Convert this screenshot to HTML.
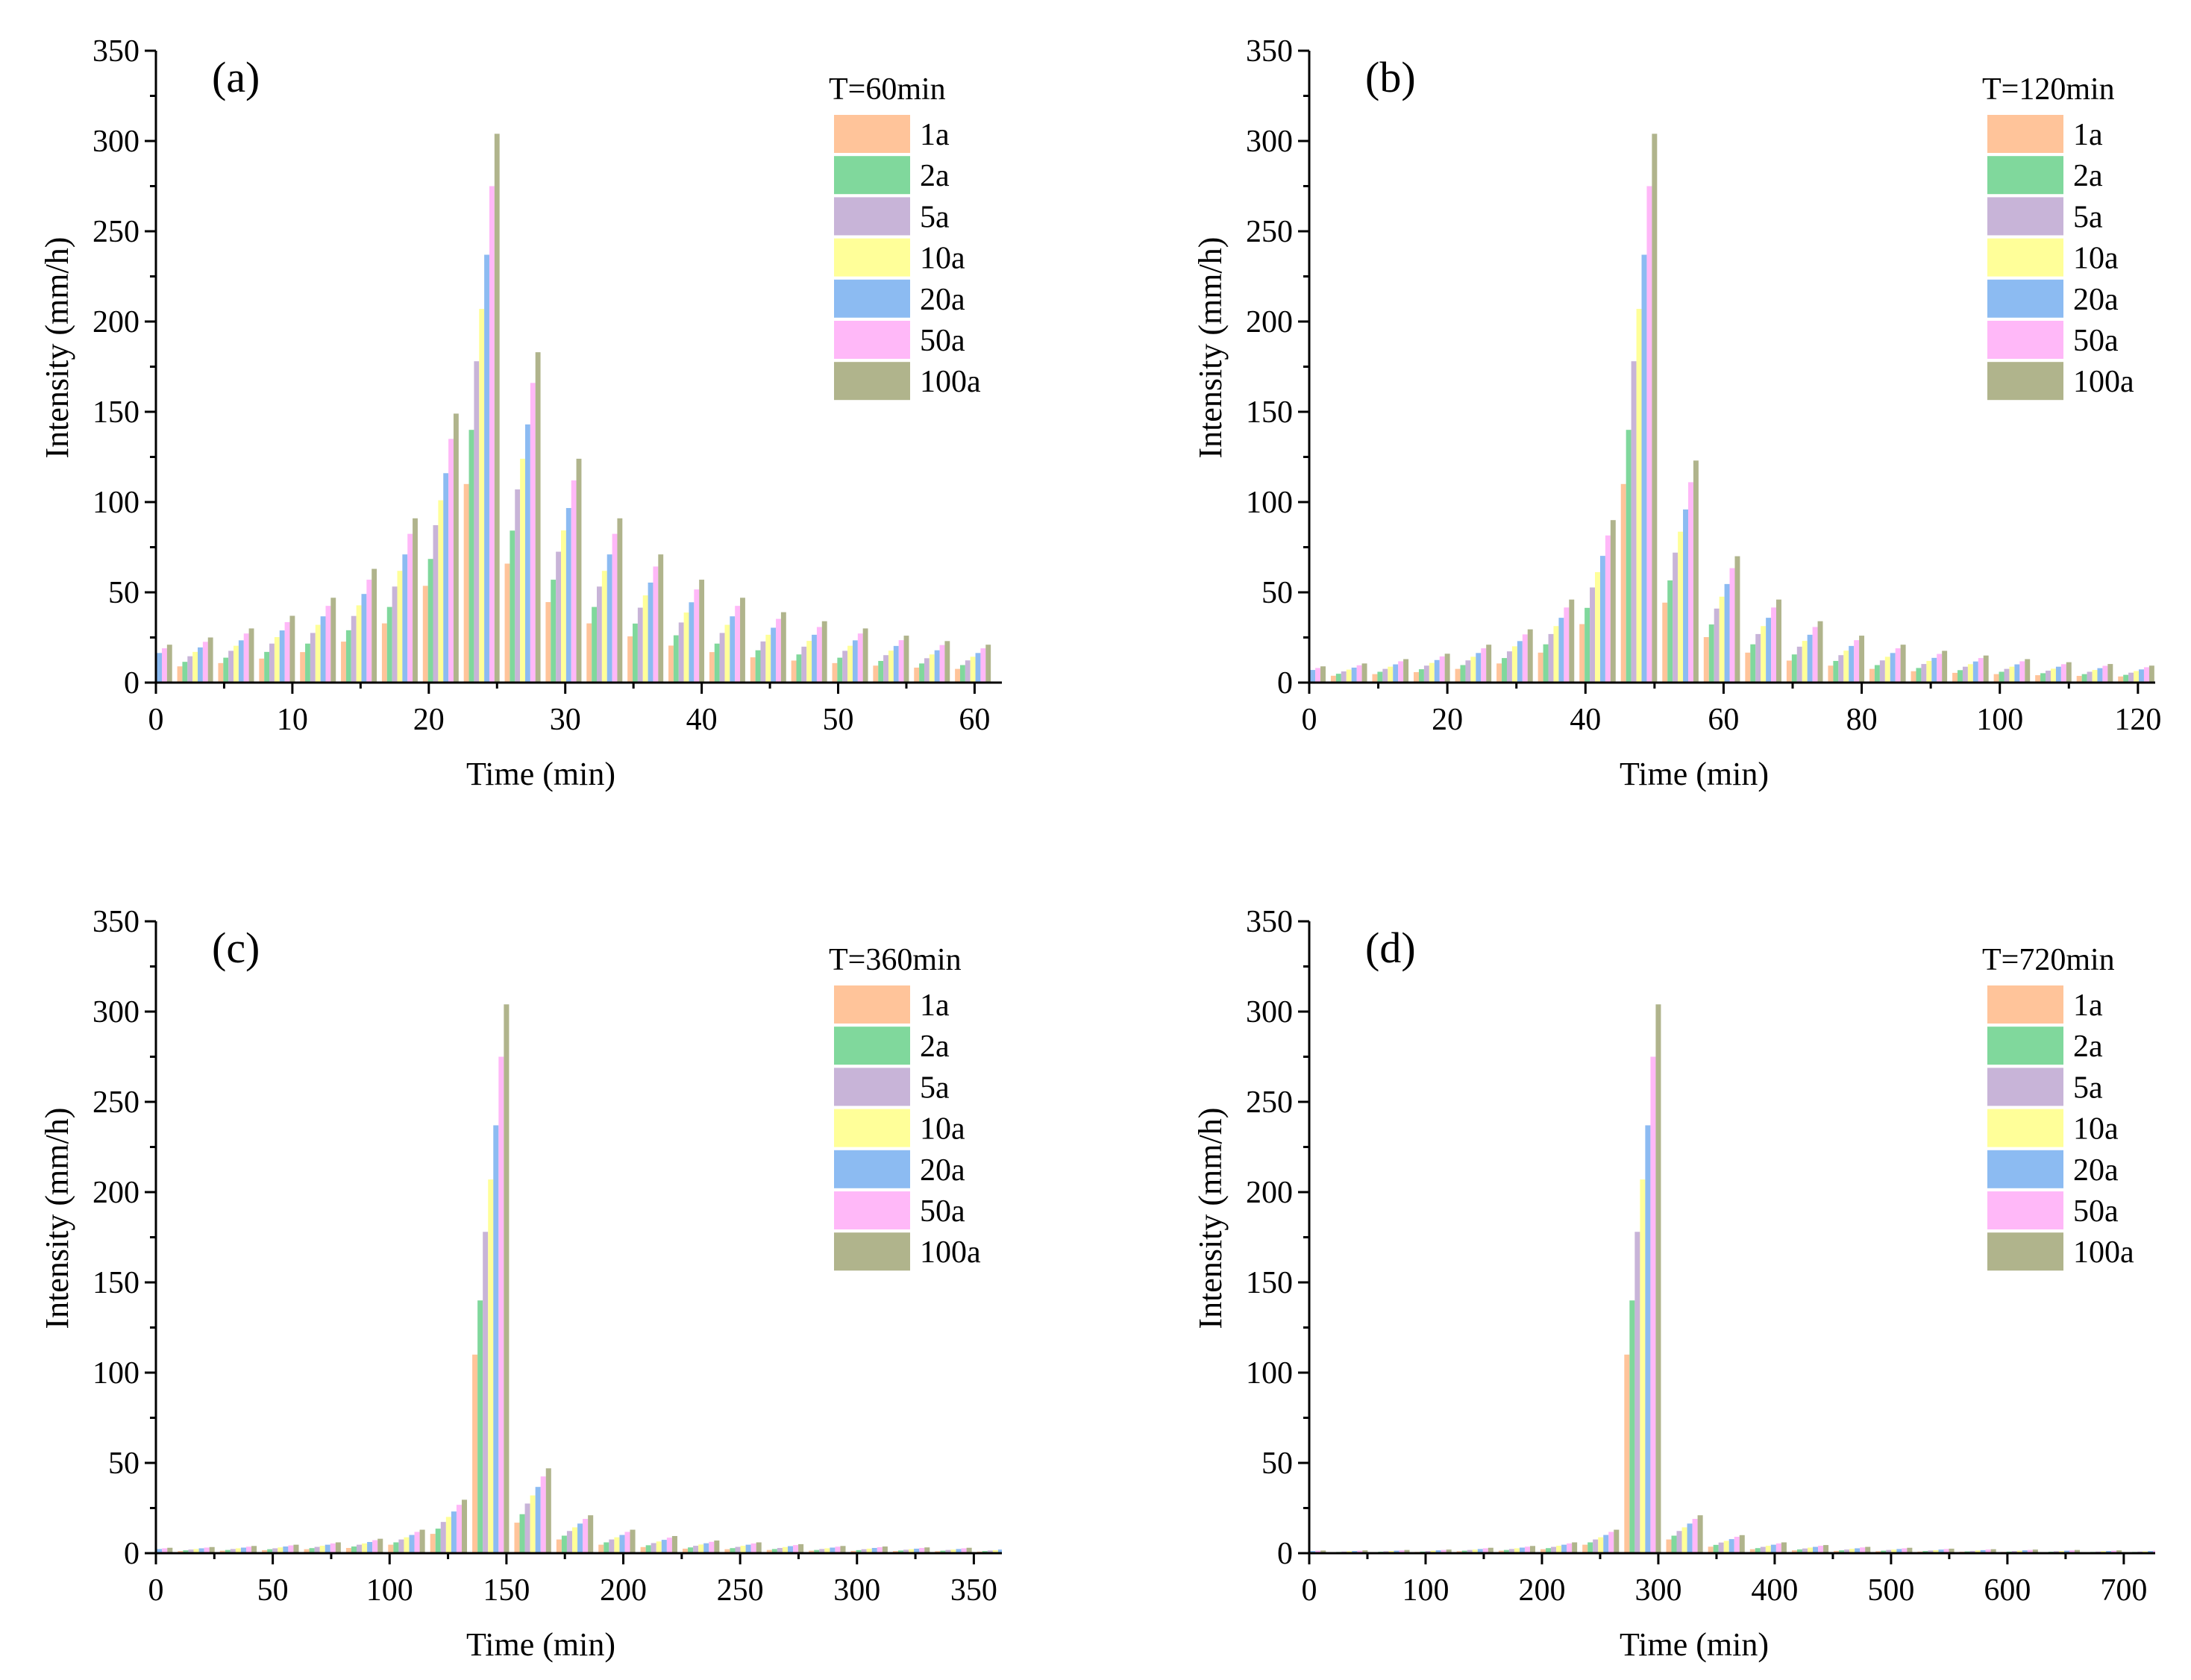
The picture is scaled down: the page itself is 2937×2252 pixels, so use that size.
<!DOCTYPE html>
<html><head><meta charset="utf-8"><style>
html,body{margin:0;padding:0;background:#fff;}
svg{display:block;font-family:"Liberation Serif",serif;}
</style></head><body>
<svg id="fig" width="2937" height="2252" viewBox="0 0 2937 2252" xmlns="http://www.w3.org/2000/svg"></svg>
<script>
const seriesNames = ["1a","2a","5a","10a","20a","50a","100a"];
const seriesColors = ["#FFC49A","#80D89C","#C8B4D8","#FFFF99","#8CBBF2","#FFB8F8","#B0B48C"];
const yTicks = [0,50,100,150,200,250,300,350];

const aS1=[7.6,9,10.8,13.3,16.9,22.7,32.8,53.6,110,65.9,44.6,32.8,25.6,20.5,16.9,14,12.2,10.8,9.4,8.3,7.6];
const aS2=[9.7,11.5,13.8,17,21.6,29,41.9,68.5,140,84.2,57,41.9,32.7,26.2,21.6,17.9,15.6,13.8,12,10.6,9.7];
const aS5=[12.3,14.6,17.6,21.6,27.5,36.9,53.2,87.2,178,107,72.5,53.2,41.5,33.3,27.5,22.8,19.9,17.6,15.2,13.5,12.3];
const aS10=[14.3,17,20.4,25.2,32,42.8,61.9,101,207,124,84.3,61.9,48.3,38.8,32,26.5,23.1,20.4,17.7,15.6,14.3];
const aS20=[16.4,19.5,23.4,28.9,36.7,49.1,71,116,237,143,96.7,71,55.4,44.5,36.7,30.4,26.5,23.4,20.3,17.9,16.4];
const aS50=[19,22.6,27.2,33.5,42.5,57,82.4,135,275,166,112,82.4,64.3,51.6,42.5,35.3,30.8,27.2,23.5,20.8,19];
const aS100=[21,25,30,37,47,63,91,149,304,183,124,91,71,57,47,39,34,30,26,23,21];

const bS1=[3.2,3.8,4.7,5.8,7.6,10.6,16.6,32.4,110,44.3,25.2,16.6,12.2,9.4,7.6,6.3,5.4,4.7,4.1,3.7,3.4];
const bS2=[4.1,4.9,6,7.4,9.7,13.6,21.2,41.4,140,56.6,32.2,21.2,15.6,12,9.7,8.1,6.9,6,5.2,4.7,4.3];
const bS5=[5.3,6.2,7.6,9.4,12.3,17.3,26.9,52.7,178,72,41,26.9,19.9,15.2,12.3,10.3,8.8,7.6,6.6,6,5.5];
const bS10=[6.1,7.2,8.8,10.9,14.3,20.1,31.3,61.2,207,83.6,47.6,31.3,23.1,17.7,14.3,12,10.2,8.8,7.7,7,6.4];
const bS20=[7,8.3,10.1,12.5,16.4,23,35.9,70.2,237,95.9,54.6,35.9,26.5,20.3,16.4,13.7,11.7,10.1,8.8,8,7.3];
const bS50=[8.1,9.6,11.8,14.5,19,26.7,41.6,81.5,275,111,63.4,41.6,30.8,23.5,19,15.9,13.6,11.8,10.2,9.3,8.5];
const bS100=[9,10.6,13,16,21,29.5,46,90,304,123,70,46,34,26,21,17.6,15,13,11.3,10.3,9.4];

const cS1=[1.1,1.2,1.4,1.7,2.2,2.9,4.7,10.7,110,16.9,7.6,4.7,3.4,2.5,2.2,1.8,1.4,1.3,1.2,1.1,0.9];
const cS2=[1.4,1.6,1.8,2.2,2.8,3.7,6,13.6,140,21.6,9.7,6,4.4,3.2,2.8,2.3,1.8,1.7,1.5,1.4,1.2];
const cS5=[1.8,2,2.3,2.7,3.5,4.7,7.6,17.3,178,27.5,12.3,7.6,5.6,4.1,3.5,2.9,2.3,2.2,1.9,1.8,1.5];
const cS10=[2,2.3,2.7,3.2,4.1,5.4,8.8,20.1,207,32,14.3,8.8,6.5,4.8,4.1,3.4,2.7,2.5,2.2,2,1.7];
const cS20=[2.3,2.7,3.1,3.7,4.7,6.2,10.1,23.1,237,36.7,16.4,10.1,7.4,5.5,4.7,3.9,3.1,2.9,2.5,2.3,2];
const cS50=[2.7,3.1,3.6,4.3,5.4,7.2,11.8,26.8,275,42.5,19,11.8,8.6,6.3,5.4,4.5,3.6,3.3,2.9,2.7,2.3];
const cS100=[3,3.4,4,4.7,6,8,13,29.6,304,47,21,13,9.5,7,6,5,4,3.7,3.2,3,2.5];

const dS1=[0.5,0.6,0.6,0.7,1.1,1.4,2.2,4.7,110,7.6,3.6,2.2,1.6,1.3,1.1,0.9,0.8,0.7,0.6,0.6,0.5];
const dS2=[0.7,0.7,0.8,0.9,1.4,1.8,2.8,6,140,9.7,4.6,2.8,2.1,1.6,1.4,1.2,1,0.9,0.8,0.7,0.7];
const dS5=[0.9,0.9,1.1,1.2,1.8,2.3,3.5,7.6,178,12.3,5.9,3.5,2.6,2,1.8,1.5,1.3,1.2,1.1,0.9,0.9];
const dS10=[1,1.1,1.2,1.4,2,2.7,4.1,8.8,207,14.3,6.8,4.1,3.1,2.4,2,1.7,1.5,1.4,1.2,1.1,1];
const dS20=[1.2,1.2,1.4,1.6,2.3,3.1,4.7,10.1,237,16.4,7.8,4.7,3.5,2.7,2.3,2,1.7,1.6,1.4,1.2,1.2];
const dS50=[1.4,1.4,1.6,1.8,2.7,3.6,5.4,11.8,275,19,9.1,5.4,4.1,3.2,2.7,2.3,2,1.8,1.6,1.4,1.4];
const dS100=[1.5,1.6,1.8,2,3,4,6,13,304,21,10,6,4.5,3.5,3,2.5,2.2,2,1.8,1.6,1.5];

const panelLabels=["(a)","(b)","(c)","(d)"];
const panelTitles=["T=60min","T=120min","T=360min","T=720min"];
const panelPeriods=[3,6,18,36];
const panelXMax=[62,122.5,362,727];
const panelXMajor=[[0,10,20,30,40,50,60],[0,20,40,60,80,100,120],[0,50,100,150,200,250,300,350],[0,100,200,300,400,500,600,700]];
const panelXMinorStep=[5,10,25,50];
const panelSeries=[[aS1,aS2,aS5,aS10,aS20,aS50,aS100],[bS1,bS2,bS5,bS10,bS20,bS50,bS100],[cS1,cS2,cS5,cS10,cS20,cS50,cS100],[dS1,dS2,dS5,dS10,dS20,dS50,dS100]];

const NS="http://www.w3.org/2000/svg";
const svg=document.getElementById('fig');
function mk(tag,attrs,parent){const e=document.createElementNS(NS,tag);for(const k in attrs)e.setAttribute(k,attrs[k]);(parent||svg).appendChild(e);return e;}

const origins=[[209,68],[1755,68],[209,1235],[1755,1235]];
const W=1134,H=847;
panelSeries.forEach((series,p)=>{
  const [L,T]=origins[p];
  const B=T+H,R=L+W;
  const xs=v=>L+v/panelXMax[p]*W;
  const ys=v=>B-v/350*H;
  const g=mk('g',{});
  
  
  const cid='clip'+p;
  const cp=mk('clipPath',{id:cid},g);
  mk('rect',{x:L,y:T-5,width:W,height:H+5},cp);
  const bars=mk('g',{'clip-path':'url(#'+cid+')'},g);
  
  
  const per=panelPeriods[p], w=per/8;
  series.forEach((arr,k)=>{
    arr.forEach((v,i)=>{
      const tc=per*i+per/3-(6-k)*w;
      const x0=xs(tc-w/2), x1=xs(tc+w/2);
      const r=mk('rect',{x:x0,y:ys(v),width:x1-x0,height:B-ys(v),fill:seriesColors[k]},bars);
      
      
    });
  });
  const ax=mk('g',{stroke:'#000','stroke-width':3},g);
  
  
  mk('line',{x1:L,y1:T,x2:L,y2:B+1.5},ax);
  mk('line',{x1:L-1.5,y1:B,x2:R,y2:B},ax);
  yTicks.forEach(v=>{
    mk('line',{x1:L-15,y1:ys(v),x2:L,y2:ys(v)},ax);
    if(v<350) mk('line',{x1:L-8,y1:ys(v+25),x2:L,y2:ys(v+25)},ax);
    const t=mk('text',{x:L-22,y:ys(v)+14,'text-anchor':'end','font-size':42,fill:'#000',stroke:'none'},g);
    t.textContent=v;
    
    
  });
  for(let v=0;v<=panelXMax[p];v+=panelXMinorStep[p]){
    const major=panelXMajor[p].includes(v);
    mk('line',{x1:xs(v),y1:B,x2:xs(v),y2:B+(major?15:8)},ax);
  }
  panelXMajor[p].forEach(v=>{
    const t=mk('text',{x:xs(v),y:B+63,'text-anchor':'middle','font-size':42,fill:'#000'},g);
    t.textContent=v;
    
    
  });
  const xt=mk('text',{x:L+W*0.455,y:B+137,'text-anchor':'middle','font-size':44,fill:'#000'},g);
  xt.textContent='Time (min)';
  
  
  const yt=mk('text',{x:0,y:0,'text-anchor':'middle','font-size':44,fill:'#000',transform:`translate(${L-118},${T+H*0.47}) rotate(-90)`},g);
  yt.textContent='Intensity (mm/h)';
  
  
  const pl=mk('text',{x:L+75,y:T+55,'font-size':58,fill:'#000'},g);
  pl.textContent=panelLabels[p];
  
  
  const lg=mk('g',{},g);
  
  
  const lx=L+909;
  const tt=mk('text',{x:lx-7,y:T+65,'font-size':42,fill:'#000'},lg);
  tt.textContent=panelTitles[p];
  
  
  seriesNames.forEach((n,k)=>{
    const y0=T+86+k*55.2;
    const e=mk('g',{},lg);
    
    
    mk('rect',{x:lx,y:y0,width:102,height:51,fill:seriesColors[k]},e);
    const lt=mk('text',{x:lx+115,y:y0+40,'font-size':42,fill:'#000'},e);
    lt.textContent=n;
  });
});
</script>
</body></html>
